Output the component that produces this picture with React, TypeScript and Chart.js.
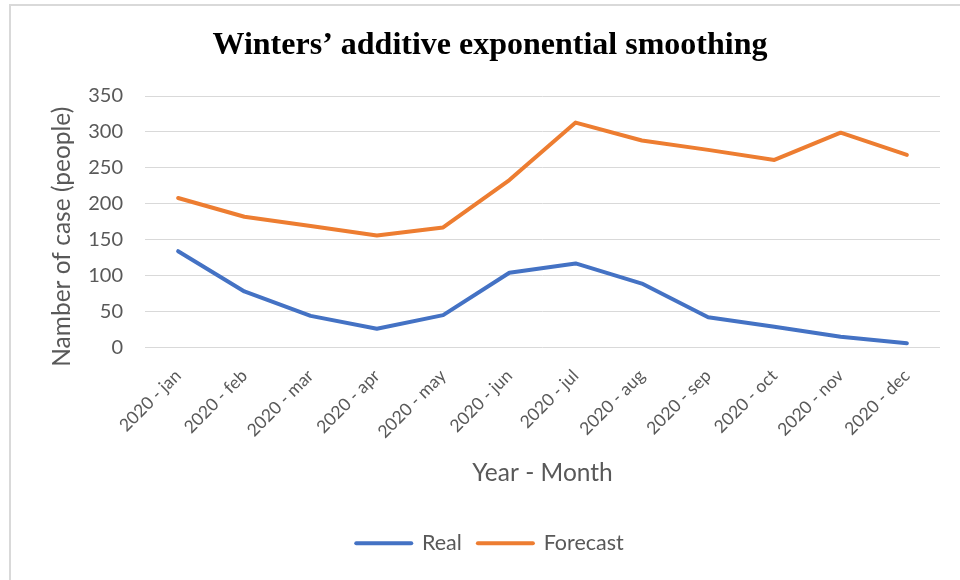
import React, { useEffect, useRef } from "react";
import { Chart, registerables } from "chart.js";

Chart.register(...registerables);

const categories = [
  "2020 - jan", "2020 - feb", "2020 - mar", "2020 - apr", "2020 - may", "2020 - jun",
  "2020 - jul", "2020 - aug", "2020 - sep", "2020 - oct", "2020 - nov", "2020 - dec",
];
const realValues = [134, 78, 44, 26, 45, 104, 117, 89, 42, 29, 15, 6];
const forecastValues = [208, 182, 169, 156, 167, 233, 313, 288, 275, 261, 299, 268];
const yTicks = [0, 50, 100, 150, 200, 250, 300, 350];

const TITLE = "Winters\u2019 additive exponential smoothing";
const Y_TITLE = "Namber of case (people)";
const X_TITLE = "Year - Month";
const BLUE = "#4472C4";
const ORANGE = "#ED7D31";
const GRAY = "#595959";
const FONT = "Lato, 'Open Sans', sans-serif";

// Draws the y-axis title slightly below the centre of the plot, as in the reference.
const yTitlePlugin = {
  id: "yTitleOffset",
  afterDraw(chart: any) {
    const s = chart.scales.y;
    const ctx = chart.ctx;
    ctx.save();
    ctx.translate(51, (s.top + s.bottom) / 2 + 15);
    ctx.rotate(-Math.PI / 2);
    ctx.fillStyle = GRAY;
    ctx.font = `24.5px ${FONT}`;
    ctx.textAlign = "center";
    ctx.textBaseline = "middle";
    ctx.fillText(Y_TITLE, 0, 0);
    ctx.restore();
  },
};

export default function App() {
  const ref = useRef<HTMLCanvasElement | null>(null);

  useEffect(() => {
    if (!ref.current) return;
    const chart = new Chart(ref.current, {
      type: "line",
      data: {
        labels: categories,
        datasets: [
          {
            label: "Real",
            data: realValues,
            borderColor: BLUE,
            backgroundColor: BLUE,
            borderWidth: 4,
            pointRadius: 0,
            borderCapStyle: "round",
            borderJoinStyle: "round",
            tension: 0,
          },
          {
            label: "Forecast",
            data: forecastValues,
            borderColor: ORANGE,
            backgroundColor: ORANGE,
            borderWidth: 4,
            pointRadius: 0,
            borderCapStyle: "round",
            borderJoinStyle: "round",
            tension: 0,
          },
        ],
      },
      plugins: [yTitlePlugin],
      options: {
        animation: false,
        responsive: false,
        maintainAspectRatio: false,
        layout: { padding: { top: 0, right: 0, bottom: 16, left: 0 } },
        plugins: {
          title: {
            display: true,
            text: TITLE,
            color: "#000",
            font: { family: "'Liberation Serif', 'Times New Roman', serif", size: 32, weight: "bold", lineHeight: 1.2 },
            padding: { top: 21, bottom: 30.6 },
          },
          legend: {
            display: true,
            position: "bottom",
            labels: {
              color: GRAY,
              font: { family: FONT, size: 21.5 },
              usePointStyle: true,
              pointStyleWidth: 55,
              boxHeight: 20,
              padding: 16,
              generateLabels: (c: any) =>
                c.data.datasets.map((ds: any, i: number) => ({
                  text: ds.label,
                  fillStyle: ds.borderColor,
                  strokeStyle: ds.borderColor,
                  lineWidth: 4,
                  lineCap: "round",
                  pointStyle: "line",
                  hidden: false,
                  datasetIndex: i,
                  fontColor: GRAY,
                })),
            },
          },
          tooltip: { enabled: false },
        },
        scales: {
          x: {
            type: "category",
            offset: true,
            grid: { display: false },
            border: { display: false },
            ticks: {
              color: GRAY,
              font: { family: FONT, size: 17.5 },
              maxRotation: 45,
              minRotation: 45,
              padding: 10,
              autoSkip: false,
            },
            title: {
              display: true,
              text: X_TITLE,
              color: GRAY,
              font: { family: FONT, size: 24.5, lineHeight: 1.2 },
              padding: { top: 0, bottom: 29 },
            },
            afterFit: (s: any) => {
              s.height = 169;
            },
          },
          y: {
            min: 0,
            max: 350,
            afterBuildTicks: (s: any) => {
              s.ticks = yTicks.map((v) => ({ value: v }));
            },
            grid: { color: "#d9d9d9", lineWidth: 1, drawTicks: false },
            border: { display: false },
            ticks: {
              color: GRAY,
              font: { family: FONT, size: 20 },
              padding: 22,
            },
            title: { display: false },
            afterFit: (s: any) => {
              s.width = 134;
            },
          },
          yRight: {
            type: "linear",
            position: "right",
            display: true,
            grid: { display: false, drawOnChartArea: false, drawTicks: false },
            border: { display: false },
            ticks: { display: false },
            afterFit: (s: any) => {
              s.width = 29;
            },
          },
        },
      },
    });
    return () => chart.destroy();
  }, []);

  return (
    <div style={{ position: "absolute", left: 0, top: 0, width: 960, height: 580, overflow: "hidden", background: "#fff" }}>
      <div
        style={{
          position: "absolute",
          left: 9,
          top: 4,
          width: 1000,
          height: 620,
          borderTop: "2px solid #d9d9d9",
          borderLeft: "2px solid #d9d9d9",
          background: "#fff",
        }}
      >
        <canvas ref={ref} width={958} height={574} style={{ display: "block" }} />
      </div>
    </div>
  );
}
